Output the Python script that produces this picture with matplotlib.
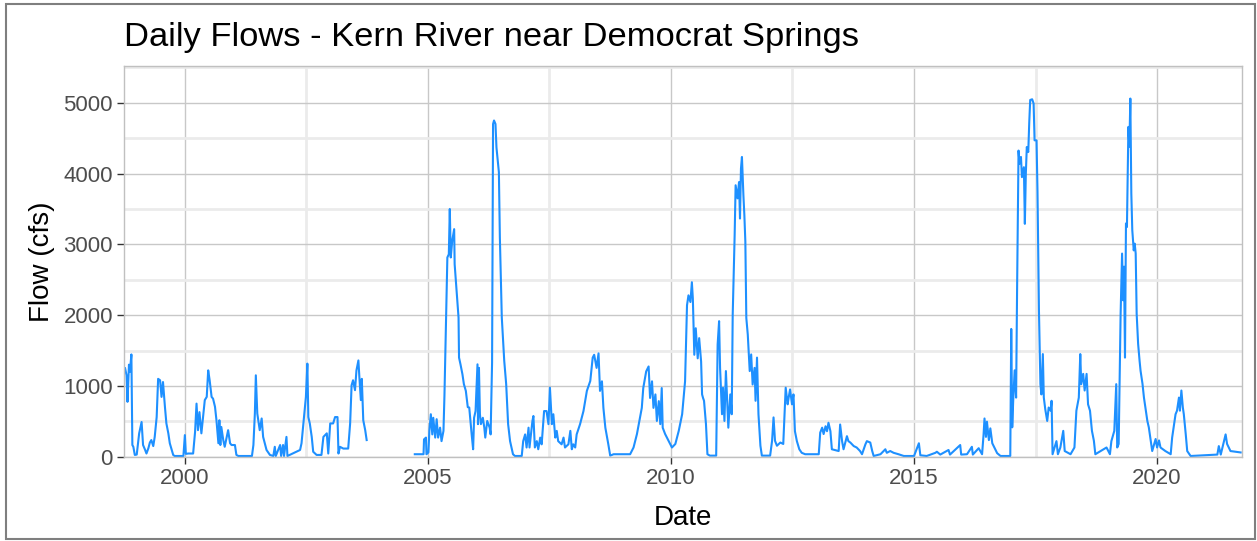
import numpy as np
import matplotlib.pyplot as plt
from matplotlib.patches import Rectangle

plt.rcParams['font.family'] = ['Liberation Sans', 'DejaVu Sans']

# daily flow record, Kern River near Democrat Springs (decimal year, cfs)
yr_9903 = [1998.77, 1998.80, 1998.82, 1998.85, 1998.87, 1998.90, 1998.92, 1998.94, 1998.97,
           1999.01, 1999.06, 1999.11, 1999.14, 1999.18, 1999.21, 1999.25, 1999.28, 1999.31,
           1999.35, 1999.38, 1999.42, 1999.45, 1999.49, 1999.52, 1999.55, 1999.59, 1999.62,
           1999.66, 1999.69, 1999.73, 1999.76, 1999.79, 1999.97, 2000.00, 2000.02, 2000.07,
           2000.17, 2000.21, 2000.24, 2000.27, 2000.30, 2000.34, 2000.41, 2000.45, 2000.48,
           2000.51, 2000.55, 2000.58, 2000.62, 2000.65, 2000.69, 2000.71, 2000.73, 2000.75,
           2000.79, 2000.82, 2000.89, 2000.93, 2000.96, 2001.03, 2001.06, 2001.10, 2001.38,
           2001.41, 2001.44, 2001.46, 2001.49, 2001.54, 2001.58, 2001.61, 2001.68, 2001.75,
           2001.82, 2001.85, 2001.87, 2001.96, 2001.98, 2002.02, 2002.04, 2002.09, 2002.11,
           2002.37, 2002.40, 2002.45, 2002.49, 2002.52, 2002.54, 2002.57, 2002.61, 2002.64,
           2002.71, 2002.81, 2002.85, 2002.92, 2002.95, 2002.99, 2003.05, 2003.09, 2003.14,
           2003.16, 2003.19, 2003.26, 2003.36, 2003.40, 2003.43, 2003.46, 2003.50, 2003.53,
           2003.57, 2003.59, 2003.62, 2003.64, 2003.67, 2003.71, 2003.74]
cfs_9903 = [1250, 1150, 775, 1300, 1200, 1445, 165, 140, 25,
            30, 330, 490, 165, 100, 45, 120, 200, 235,
            150, 280, 560, 1100, 1080, 845, 1055, 705, 470,
            330, 190, 95, 25, 10, 10, 305, 40, 45,
            45, 350, 750, 375, 630, 330, 800, 845, 1220,
            1080, 845, 820, 705, 515, 190, 515, 165, 420,
            235, 140, 375, 190, 165, 165, 25, 10, 10,
            165, 610, 1150, 610, 375, 540, 280, 95, 25,
            10, 140, 10, 165, 10, 165, 10, 280, 10,
            95, 190, 560, 845, 1315, 560, 470, 280, 70,
            25, 25, 280, 330, 45, 470, 470, 560, 560,
            45, 140, 115, 115, 470, 1010, 1080, 940, 1220,
            1360, 1125, 800, 1100, 515, 375, 235]

yr_0509 = [2004.73, 2004.91, 2004.92, 2004.96, 2004.97, 2005.01, 2005.03, 2005.06, 2005.09,
           2005.11, 2005.15, 2005.18, 2005.21, 2005.25, 2005.28, 2005.32, 2005.34, 2005.37,
           2005.40, 2005.43, 2005.45, 2005.47, 2005.50, 2005.54, 2005.55, 2005.57, 2005.59,
           2005.63, 2005.64, 2005.67, 2005.71, 2005.74, 2005.78, 2005.82, 2005.85, 2005.88,
           2005.90, 2005.93, 2005.95, 2005.98, 2006.02, 2006.03, 2006.05, 2006.07, 2006.09,
           2006.13, 2006.16, 2006.18, 2006.22, 2006.27, 2006.29, 2006.32, 2006.34, 2006.36,
           2006.39, 2006.41, 2006.46, 2006.48, 2006.52, 2006.57, 2006.61, 2006.65, 2006.69,
           2006.75, 2006.79, 2006.93, 2006.96, 2007.00, 2007.03, 2007.07, 2007.09, 2007.12,
           2007.15, 2007.17, 2007.20, 2007.24, 2007.27, 2007.31, 2007.34, 2007.39, 2007.44,
           2007.48, 2007.51, 2007.55, 2007.58, 2007.62, 2007.65, 2007.68, 2007.75, 2007.79,
           2007.82, 2007.89, 2007.93, 2007.96, 2007.99, 2008.03, 2008.06, 2008.13, 2008.20,
           2008.27, 2008.34, 2008.39, 2008.42, 2008.47, 2008.51, 2008.54, 2008.58, 2008.61,
           2008.65, 2008.71, 2008.75, 2008.82, 2009.16, 2009.23, 2009.30, 2009.35, 2009.40,
           2009.43, 2009.49, 2009.54, 2009.57, 2009.61, 2009.64, 2009.68, 2009.71, 2009.75,
           2009.78, 2009.81, 2009.83, 2009.88, 2009.95]
cfs_0509 = [35, 35, 245, 270, 35, 60, 365, 600, 315,
            550, 270, 530, 270, 410, 220, 365, 860, 1825,
            2815, 2860, 3500, 2815, 3050, 3215, 2720, 2530, 2345,
            1965, 1400, 1305, 1165, 1025, 930, 700, 695, 460,
            315, 105, 550, 645, 1305, 460, 1255, 600, 460,
            550, 410, 270, 505, 410, 315, 1330, 4700, 4750,
            4700, 4370, 4020, 3100, 1965, 1355, 1025, 460, 220,
            35, 10, 10, 220, 315, 130, 410, 130, 315,
            505, 575, 130, 220, 105, 270, 175, 645, 645,
            460, 975, 460, 600, 270, 365, 220, 175, 270,
            130, 175, 365, 105, 175, 130, 315, 460, 645,
            930, 1070, 1400, 1440, 1255, 1460, 930, 1065, 690,
            410, 180, 15, 35, 35, 130, 320, 505, 690,
            970, 1205, 1275, 830, 1065, 690, 880, 505, 785,
            460, 970, 410, 320, 225]

yr_1014 = [2010.02, 2010.09, 2010.16, 2010.23, 2010.29, 2010.33, 2010.36, 2010.40, 2010.43,
           2010.45, 2010.48, 2010.51, 2010.55, 2010.58, 2010.62, 2010.64, 2010.66, 2010.68,
           2010.72, 2010.75, 2010.80, 2010.93, 2010.96, 2010.99, 2011.01, 2011.05, 2011.07,
           2011.10, 2011.13, 2011.15, 2011.18, 2011.22, 2011.25, 2011.27, 2011.31, 2011.33,
           2011.37, 2011.40, 2011.42, 2011.44, 2011.46, 2011.49, 2011.51, 2011.53, 2011.55,
           2011.58, 2011.62, 2011.65, 2011.68, 2011.72, 2011.74, 2011.77, 2011.80, 2011.84,
           2011.87, 2012.04, 2012.08, 2012.11, 2012.14, 2012.18, 2012.25, 2012.31, 2012.36,
           2012.40, 2012.42, 2012.45, 2012.49, 2012.52, 2012.55, 2012.59, 2012.64, 2012.69,
           2012.76, 2013.04, 2013.07, 2013.11, 2013.14, 2013.18, 2013.21, 2013.24, 2013.28,
           2013.31, 2013.45, 2013.48, 2013.52, 2013.55, 2013.62, 2013.65, 2013.69, 2013.76,
           2013.82, 2013.89, 2013.93, 2014.00, 2014.03, 2014.10, 2014.14, 2014.17, 2014.31,
           2014.41, 2014.44, 2014.51, 2014.58, 2014.68, 2014.79]
cfs_1014 = [130, 180, 365, 600, 1065, 2140, 2280, 2185, 2465,
            2235, 1440, 1815, 1390, 1675, 1345, 880, 830, 790,
            460, 35, 15, 15, 1585, 1915, 1255, 600, 975,
            505, 1210, 880, 410, 880, 600, 2005, 3130, 3835,
            3650, 3880, 3365, 4070, 4235, 3695, 3410, 3040, 1960,
            1725, 1210, 1445, 1020, 1255, 790, 1400, 600, 155,
            15, 15, 225, 555, 225, 155, 200, 180, 975,
            740, 830, 950, 740, 880, 360, 220, 105, 55,
            35, 35, 340, 410, 320, 430, 360, 480, 360,
            105, 80, 455, 220, 105, 290, 220, 200, 150,
            130, 80, 35, 175, 220, 200, 80, 10, 35,
            105, 55, 80, 55, 35, 10]

yr_1521 = [2015.00, 2015.10, 2015.13, 2015.26, 2015.44, 2015.47, 2015.54, 2015.71, 2015.74,
           2015.95, 2015.97, 2016.09, 2016.19, 2016.21, 2016.33, 2016.40, 2016.43, 2016.45,
           2016.48, 2016.50, 2016.54, 2016.57, 2016.61, 2016.66, 2016.71, 2016.78, 2016.98,
           2017.00, 2017.02, 2017.04, 2017.07, 2017.10, 2017.12, 2017.15, 2017.17, 2017.20,
           2017.22, 2017.26, 2017.28, 2017.30, 2017.32, 2017.35, 2017.37, 2017.39, 2017.43,
           2017.46, 2017.48, 2017.52, 2017.54, 2017.57, 2017.60, 2017.62, 2017.65, 2017.67,
           2017.70, 2017.74, 2017.77, 2017.81, 2017.83, 2017.85, 2017.93, 2017.96, 2018.01,
           2018.07, 2018.10, 2018.22, 2018.30, 2018.34, 2018.39, 2018.42, 2018.44, 2018.48,
           2018.51, 2018.55, 2018.58, 2018.62, 2018.66, 2018.70, 2018.73, 2018.96, 2019.03,
           2019.06, 2019.12, 2019.16, 2019.18, 2019.21, 2019.25, 2019.28, 2019.30, 2019.32,
           2019.34, 2019.36, 2019.38, 2019.41, 2019.43, 2019.45, 2019.47, 2019.49, 2019.52,
           2019.54, 2019.56, 2019.58, 2019.61, 2019.64, 2019.66, 2019.70, 2019.73, 2019.77,
           2019.80, 2019.83, 2019.87, 2019.90, 2019.97, 2020.00, 2020.04, 2020.07, 2020.17,
           2020.28, 2020.31, 2020.34, 2020.38, 2020.41, 2020.45, 2020.47, 2020.50, 2020.53,
           2020.55, 2020.59, 2020.62, 2020.69, 2021.24, 2021.27, 2021.31, 2021.41, 2021.44,
           2021.51, 2021.72]
cfs_1521 = [10, 190, 20, 10, 55, 70, 30, 95, 30,
            165, 30, 35, 140, 30, 120, 35, 305, 540,
            280, 495, 235, 400, 190, 120, 50, 10, 10,
            1805, 415, 790, 1220, 835, 2350, 4325, 4140, 4235,
            3950, 4090, 3290, 4000, 4375, 4305, 4715, 5040, 5050,
            4990, 4470, 4470, 3750, 2060, 1025, 880, 1450, 835,
            670, 505, 695, 650, 790, 35, 220, 35, 130,
            365, 80, 35, 130, 650, 835, 1450, 1025, 1170,
            935, 1170, 740, 650, 365, 225, 35, 130, 35,
            220, 365, 1025, 130, 180, 2020, 2870, 2210, 2685,
            1400, 3295, 3245, 4660, 4380, 5060, 3720, 3200, 2915,
            3010, 2870, 2020, 1595, 1355, 1215, 1030, 835, 650,
            505, 415, 225, 80, 250, 130, 230, 130, 80,
            35, 270, 415, 600, 650, 835, 650, 935, 695,
            600, 315, 80, 10, 30, 150, 30, 315, 180,
            80, 60]

x_major = [2000, 2005, 2010, 2015, 2020]
y_major = [0, 1000, 2000, 3000, 4000, 5000]

# missing record between late 2003 and late 2004 -> break the line
years = np.concatenate([yr_9903, [np.nan], yr_0509, yr_1014, yr_1521])
flows = np.concatenate([cfs_9903, [np.nan], cfs_0509, cfs_1014, cfs_1521])

W, H = 1257, 541
fig = plt.figure(figsize=(W / 100, H / 100), dpi=100)
ax = fig.add_axes([124 / W, 1 - 456.7 / H, (1242 - 124) / W, (456.7 - 66) / H])

ax.plot(years, flows, color='#1E90FF', lw=1.5)

ax.set_xlim(1998.748, 2021.747)
ax.set_ylim(0, 5520)
ax.set_xticks(x_major)
ax.set_xticks([2002.5, 2007.5, 2012.5, 2017.5], minor=True)
ax.set_yticks(y_major)
ax.set_yticks([500, 1500, 2500, 3500, 4500, 5500], minor=True)
ax.set_xticklabels([str(v) for v in x_major])
ax.set_yticklabels([str(v) for v in y_major])

ax.set_axisbelow(True)
ax.grid(which='minor', color='#ebebeb', lw=2.0)
ax.grid(which='major', color='#c8c8c8', lw=1.0)
ax.tick_params(which='major', length=5, width=1, color='#333333',
               labelsize=16, labelcolor='#4d4d4d', pad=3)
ax.tick_params(which='minor', length=0)
for s in ax.spines.values():
    s.set_color('#c0c0c0')
    s.set_linewidth(1.0)

ax.set_ylabel('Flow (cfs)', fontsize=20, labelpad=6)
fig.text(683 / W, 1 - 525 / H, 'Date', fontsize=20, ha='center', va='baseline')
fig.text(124 / W, 1 - 46 / H, 'Daily Flows - Kern River near Democrat Springs',
         fontsize=24.8, ha='left', va='baseline')

# thin frame round the whole figure
fig.patches.append(Rectangle((6 / W, 2 / H), (1255 - 6) / W, (539 - 3.5) / H,
                             transform=fig.transFigure, fill=False,
                             edgecolor='#7f7f7f', lw=1.5))

fig.savefig('out.png', dpi=100)
